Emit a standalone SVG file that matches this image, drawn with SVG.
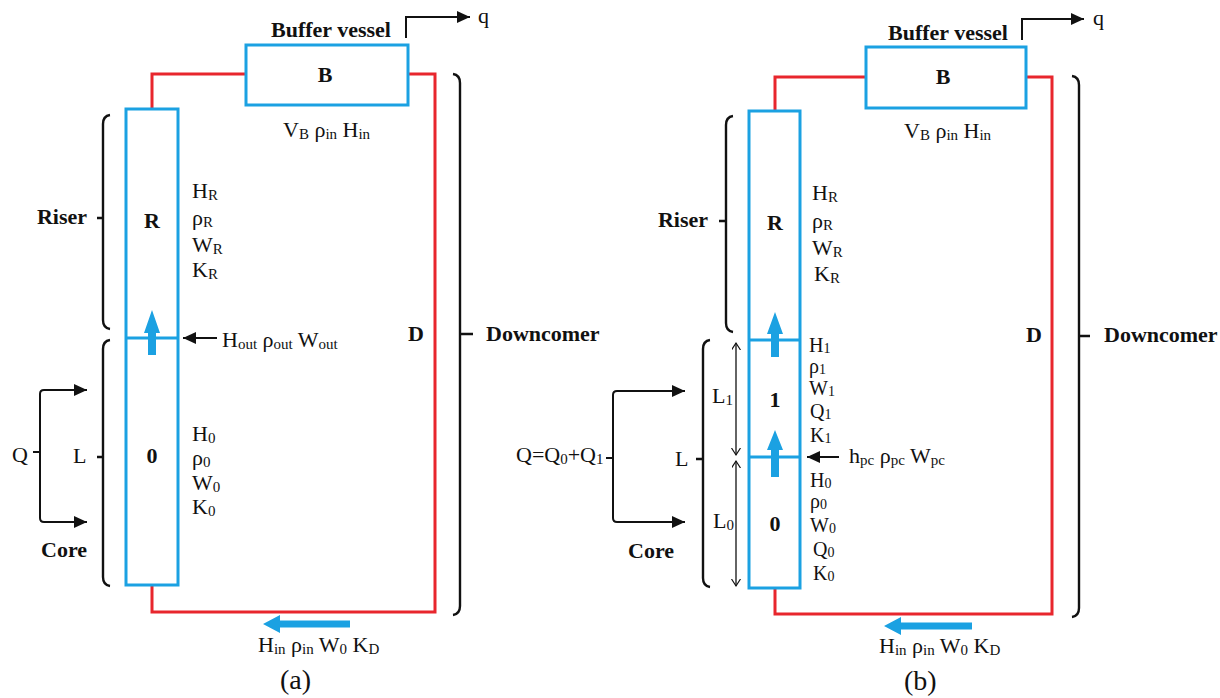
<svg xmlns="http://www.w3.org/2000/svg" width="1220" height="698" viewBox="0 0 1220 698" font-family="'Liberation Serif', 'Times New Roman', serif">
<defs>
<style>
text{font-family:'Liberation Serif','Times New Roman',serif;fill:#111;font-size:22px}
.b{font-weight:bold}
.s{font-size:15px}
.m{font-size:20px}
.m .s{font-size:14px}
.cap{font-size:28px}
.box{fill:none;stroke:#1ba1e2;stroke-width:3}
.pipe{fill:none;stroke:#e8262d;stroke-width:3}
.blk{fill:none;stroke:#111;stroke-width:2}
.brc{fill:none;stroke:#111;stroke-width:2.4}
.thin{fill:none;stroke:#111;stroke-width:1.3}
.bl{fill:#1ba1e2}
</style>
<marker id="ah" markerUnits="userSpaceOnUse" markerWidth="14" markerHeight="14" refX="13" refY="6" orient="auto"><path d="M0,0 L13,6 L0,12 z" fill="#111"/></marker>
<marker id="oh" markerUnits="userSpaceOnUse" markerWidth="10" markerHeight="10" refX="7" refY="4.5" orient="auto-start-reverse"><path d="M0,0 L7,4.5 L0,9" fill="none" stroke="#111" stroke-width="1.2"/></marker>
</defs>

<!-- ===================== Panel (a) ===================== -->
<g id="connectors-a">
<path class="pipe" d="M152,109 V74 H246"/>
<path class="pipe" d="M408,74 H435 V612 H152 V585"/>
<path class="blk" d="M406,38 V17 H470" marker-end="url(#ah)"/>
<path class="blk" d="M217,338 H183" marker-end="url(#ah)"/>
<path class="blk" d="M40,455 V394 Q40,390 44,390 H87" marker-end="url(#ah)"/>
<path class="blk" d="M40,455 V518 Q40,522 44,522 H87" marker-end="url(#ah)"/>
<path class="blk" d="M33,452 H40"/>
<polygon class="bl" points="152,310 160,333 156,333 156,355 148,355 148,333 144,333"/>
<polygon class="bl" points="263,624 280,615 280,620.5 350,620.5 350,627.5 280,627.5 280,633"/>
</g>
<g id="buffer-a">
<rect class="box" x="246" y="45" width="162" height="60"/>
<text class="b" x="331" y="37" text-anchor="middle">Buffer vessel</text>
<text class="b" x="325" y="82" text-anchor="middle">B</text>
<text x="283" y="137">V<tspan class="s" dy="2">B</tspan><tspan dy="-2"> ρ</tspan><tspan class="s" dy="2">in</tspan><tspan dy="-2"> H</tspan><tspan class="s" dy="2">in</tspan></text>
<text x="478" y="23">q</text>
</g>
<g id="column-a">
<rect class="box" x="126" y="109" width="52" height="476"/>
<line class="box" x1="126" y1="338" x2="178" y2="338"/>
<text class="b" x="152" y="228" text-anchor="middle">R</text>
<text class="b" x="152" y="463" text-anchor="middle">0</text>
</g>
<g id="riser-labels-a">
<text x="192" y="198">H<tspan class="s" dy="2">R</tspan></text>
<text x="192" y="225">ρ<tspan class="s" dy="2">R</tspan></text>
<text x="192" y="252">W<tspan class="s" dy="2">R</tspan></text>
<text x="192" y="277">K<tspan class="s" dy="2">R</tspan></text>
</g>
<g id="core-labels-a">
<text x="192" y="441">H<tspan class="s" dy="2">0</tspan></text>
<text x="192" y="465">ρ<tspan class="s" dy="2">0</tspan></text>
<text x="192" y="490">W<tspan class="s" dy="2">0</tspan></text>
<text x="192" y="514">K<tspan class="s" dy="2">0</tspan></text>
</g>
<g id="outlet-a">
<text x="222" y="347">H<tspan class="s" dy="2">out</tspan><tspan dy="-2"> ρ</tspan><tspan class="s" dy="2">out</tspan><tspan dy="-2"> W</tspan><tspan class="s" dy="2">out</tspan></text>
</g>
<g id="riser-brace-a">
<path class="brc" d="M110,115 Q103,116 103,124 V320 Q103,328 110,329 M97,218 H103"/>
<text class="b" x="87" y="224" text-anchor="end">Riser</text>
</g>
<g id="core-brace-a">
<path class="brc" d="M110,340 Q103,341 103,349 V577 Q103,585 110,586 M97,457 H103"/>
<text x="73" y="463">L</text>
<text class="b" x="41" y="557">Core</text>
<text x="12" y="462">Q</text>
</g>
<g id="downcomer-a">
<path class="brc" d="M453,74 Q460,75 460,83 V606 Q460,614 453,615 M460,334 H473"/>
<text class="b" x="408" y="341">D</text>
<text class="b" x="486" y="341">Downcomer</text>
</g>
<g id="inlet-a">
<text x="258" y="652">H<tspan class="s" dy="2">in</tspan><tspan dy="-2"> ρ</tspan><tspan class="s" dy="2">in</tspan><tspan dy="-2"> W</tspan><tspan class="s" dy="2">0</tspan><tspan dy="-2"> K</tspan><tspan class="s" dy="2">D</tspan></text>
<text class="cap" x="280" y="689">(a)</text>
</g>

<!-- ===================== Panel (b) ===================== -->
<g id="connectors-b">
<path class="pipe" d="M775,111 V77 H866"/>
<path class="pipe" d="M1026,77 H1052 V614 H775 V588"/>
<path class="blk" d="M1022,40 V19 H1084" marker-end="url(#ah)"/>
<path class="blk" d="M839,457 H807" marker-end="url(#ah)"/>
<path class="blk" d="M613,455 V395 Q613,391 617,391 H685" marker-end="url(#ah)"/>
<path class="blk" d="M613,455 V518 Q613,522 617,522 H685" marker-end="url(#ah)"/>
<path class="blk" d="M606,458 H613"/>
<path class="thin" d="M736,343 V455" marker-start="url(#oh)" marker-end="url(#oh)"/>
<path class="thin" d="M736,461 V586" marker-start="url(#oh)" marker-end="url(#oh)"/>
<polygon class="bl" points="775,312 783,334 779,334 779,357 771,357 771,334 767,334"/>
<polygon class="bl" points="775,430 783,450 779,450 779,477 771,477 771,450 767,450"/>
<polygon class="bl" points="884,626 901,617 901,622.5 972,622.5 972,629.5 901,629.5 901,635"/>
</g>
<g id="buffer-b">
<rect class="box" x="866" y="47" width="160" height="61"/>
<text class="b" x="948" y="40" text-anchor="middle">Buffer vessel</text>
<text class="b" x="943" y="84" text-anchor="middle">B</text>
<text x="904" y="138">V<tspan class="s" dy="2">B</tspan><tspan dy="-2"> ρ</tspan><tspan class="s" dy="2">in</tspan><tspan dy="-2"> H</tspan><tspan class="s" dy="2">in</tspan></text>
<text x="1093" y="25">q</text>
</g>
<g id="column-b">
<rect class="box" x="749" y="111" width="51" height="477"/>
<line class="box" x1="749" y1="340" x2="800" y2="340"/>
<line class="box" x1="749" y1="457" x2="800" y2="457"/>
<text class="b" x="775" y="230" text-anchor="middle">R</text>
<text class="b" x="775" y="407" text-anchor="middle">1</text>
<text class="b" x="775" y="531" text-anchor="middle">0</text>
</g>
<g id="riser-labels-b">
<text x="812" y="200">H<tspan class="s" dy="2">R</tspan></text>
<text x="812" y="228">ρ<tspan class="s" dy="2">R</tspan></text>
<text x="812" y="255">W<tspan class="s" dy="2">R</tspan></text>
<text x="814" y="281">K<tspan class="s" dy="2">R</tspan></text>
</g>
<g id="node1-labels-b">
<text class="m" x="809" y="352">H<tspan class="s" dy="1">1</tspan></text>
<text class="m" x="809" y="373">ρ<tspan class="s" dy="1">1</tspan></text>
<text class="m" x="809" y="395">W<tspan class="s" dy="1">1</tspan></text>
<text class="m" x="810" y="418">Q<tspan class="s" dy="1">1</tspan></text>
<text class="m" x="810" y="442">K<tspan class="s" dy="1">1</tspan></text>
</g>
<g id="node0-labels-b">
<text class="m" x="810" y="487">H<tspan class="s" dy="1">0</tspan></text>
<text class="m" x="810" y="508">ρ<tspan class="s" dy="1">0</tspan></text>
<text class="m" x="810" y="532">W<tspan class="s" dy="1">0</tspan></text>
<text class="m" x="813" y="556">Q<tspan class="s" dy="1">0</tspan></text>
<text class="m" x="813" y="580">K<tspan class="s" dy="1">0</tspan></text>
</g>
<g id="pc-b">
<text x="849" y="463">h<tspan class="s" dy="2">pc</tspan><tspan dy="-2"> ρ</tspan><tspan class="s" dy="2">pc</tspan><tspan dy="-2"> W</tspan><tspan class="s" dy="2">pc</tspan></text>
</g>
<g id="riser-brace-b">
<path class="brc" d="M733,116 Q726,117 726,125 V323 Q726,331 733,332 M719,221 H726"/>
<text class="b" x="708" y="227" text-anchor="end">Riser</text>
</g>
<g id="core-brace-b">
<path class="brc" d="M710,340 Q703,341 703,349 V578 Q703,586 710,587 M696,459 H703"/>
<text x="675" y="466">L</text>
<text x="712" y="403">L<tspan class="s" dy="2">1</tspan></text>
<text x="713" y="528">L<tspan class="s" dy="2">0</tspan></text>
<text class="b" x="628" y="558">Core</text>
<text x="516" y="462">Q=Q<tspan class="s" dy="2">0</tspan><tspan dy="-2">+Q</tspan><tspan class="s" dy="2">1</tspan></text>
</g>
<g id="downcomer-b">
<path class="brc" d="M1072,76 Q1079,77 1079,85 V608 Q1079,616 1072,617 M1079,336 H1090"/>
<text class="b" x="1026" y="342">D</text>
<text class="b" x="1104" y="342">Downcomer</text>
</g>
<g id="inlet-b">
<text x="879" y="653">H<tspan class="s" dy="2">in</tspan><tspan dy="-2"> ρ</tspan><tspan class="s" dy="2">in</tspan><tspan dy="-2"> W</tspan><tspan class="s" dy="2">0</tspan><tspan dy="-2"> K</tspan><tspan class="s" dy="2">D</tspan></text>
<text class="cap" x="904" y="690">(b)</text>
</g>
</svg>
